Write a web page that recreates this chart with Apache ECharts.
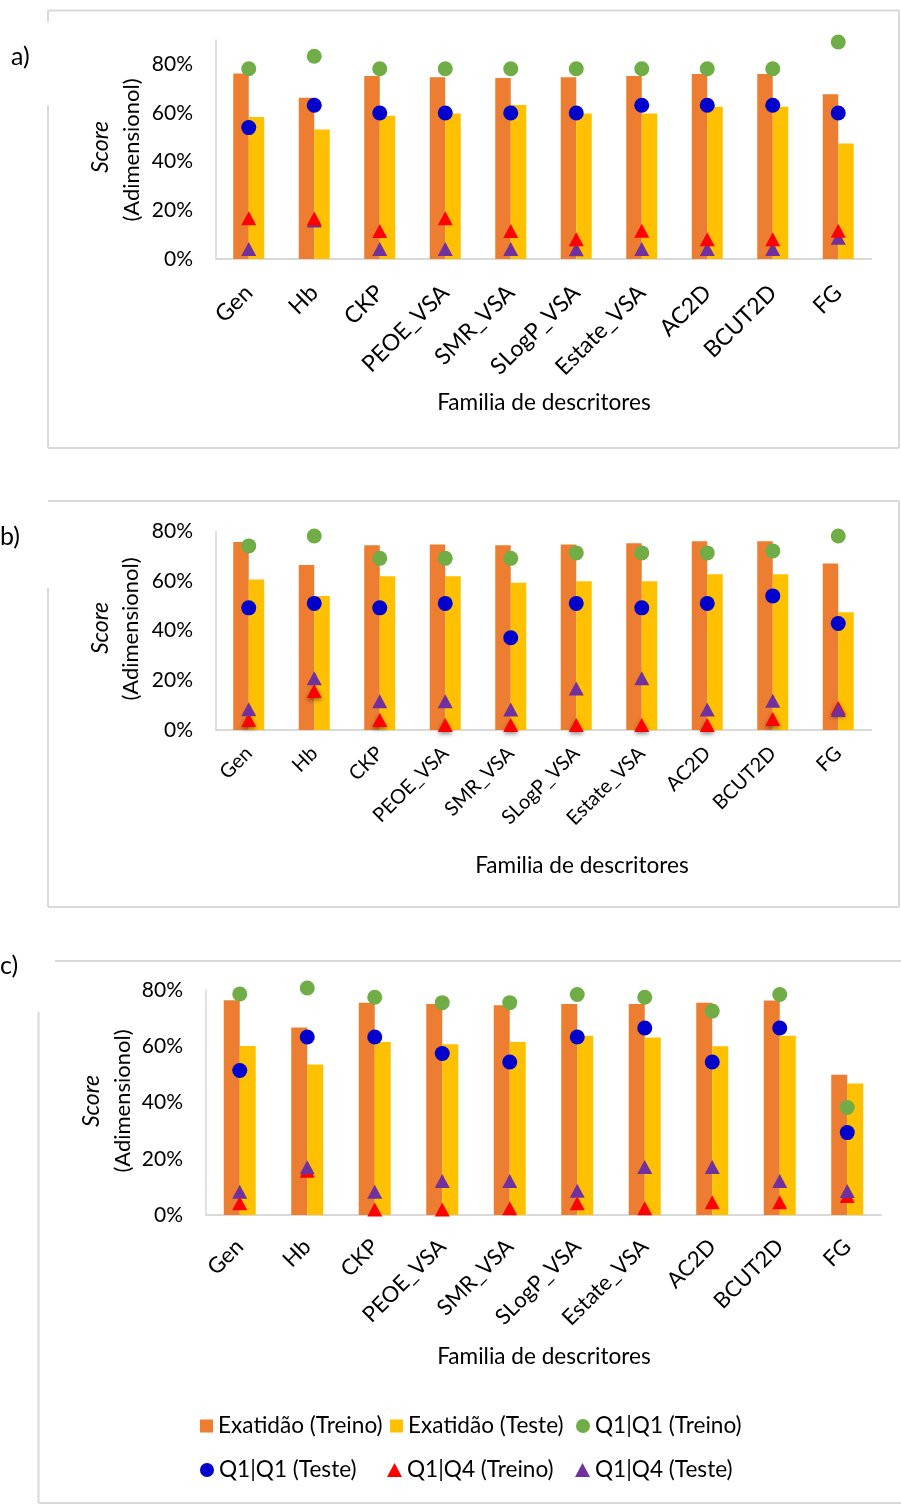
<!DOCTYPE html>
<html>
<head>
<meta charset="utf-8">
<script src="https://cdn.jsdelivr.net/npm/echarts@6/dist/echarts.min.js"></script>
<style>
  html, body { margin: 0; padding: 0; background: #fff; }
  #chart { width: 901px; height: 1506px; }
</style>
</head>
<body>
<div id="chart"></div>
<script>
// Descriptor families (x categories, shared by the three panels)
const categories = ['Gen', 'Hb', 'CKP', 'PEOE_VSA', 'SMR_VSA', 'SLogP_VSA', 'Estate_VSA', 'AC2D', 'BCUT2D', 'FG'];

// Series names (legend)
const seriesNames = ['Exatidão (Treino)', 'Exatidão (Teste)', 'Q1|Q1 (Treino)', 'Q1|Q1 (Teste)', 'Q1|Q4 (Treino)', 'Q1|Q4 (Teste)'];

// Panel a) — scores in %
const accTrainA = [76.2, 66.3, 75.2, 74.7, 74.4, 74.7, 75.2, 76.0, 76.0, 67.7];
const accTestA  = [58.4, 53.2, 58.9, 59.8, 63.3, 59.8, 59.8, 62.6, 62.6, 47.5];
const q11TrainA = [78.2, 83.3, 78.2, 78.2, 78.2, 78.2, 78.2, 78.2, 78.2, 89.2];
const q11TestA  = [54.0, 63.2, 60.0, 60.0, 60.0, 60.0, 63.2, 63.2, 63.2, 60.0];
const q14TrainA = [16.7, 16.6, 11.5, 16.7, 11.5, 8.1, 11.6, 8.1, 8.1, 11.6];
const q14TestA  = [4.1, 15.8, 4.1, 4.1, 4.1, 4.0, 4.1, 4.1, 4.1, 8.7];

// Panel b)
const accTrainB = [75.6, 66.3, 74.3, 74.6, 74.3, 74.6, 75.1, 75.9, 75.9, 66.9];
const accTestB  = [60.5, 53.9, 61.8, 61.8, 59.2, 59.8, 59.8, 62.6, 62.6, 47.3];
const q11TrainB = [74.0, 78.0, 69.0, 69.0, 69.0, 71.2, 71.2, 71.2, 72.0, 78.0];
const q11TestB  = [49.1, 50.9, 49.1, 50.9, 37.1, 50.9, 49.1, 50.9, 53.9, 42.8];
const q14TrainB = [4.0, 15.7, 4.0, 2.0, 2.0, 2.0, 2.0, 2.0, 4.4, 8.8];
const q14TestB  = [8.3, 20.8, 11.6, 11.6, 8.2, 16.7, 20.8, 8.2, 11.8, 8.0];

// Panel c)
const accTrainC = [76.4, 66.7, 75.5, 75.0, 74.6, 75.0, 75.0, 75.5, 76.3, 49.9];
const accTestC  = [60.1, 53.5, 61.5, 60.7, 61.5, 63.7, 63.1, 60.0, 63.7, 46.8];
const q11TrainC = [78.6, 80.7, 77.4, 75.5, 75.5, 78.4, 77.4, 72.5, 78.4, 38.2];
const q11TestC  = [51.4, 63.3, 63.3, 57.4, 54.4, 63.3, 66.5, 54.4, 66.5, 29.3];
const q14TrainC = [4.2, 15.7, 2.0, 2.0, 2.4, 4.2, 2.4, 4.5, 4.5, 6.8];
const q14TestC  = [8.3, 17.0, 8.3, 12.1, 12.1, 8.6, 17.1, 17.1, 12.1, 8.5];

// Y-axis tick values and axis texts
const yTicks = [0, 20, 40, 60, 80];
const panelLabels = ['a)', 'b)', 'c)'];
const xTitle = 'Familia de descritores';
const yTitleTop = 'Score';
const yTitleBottom = '(Adimensionol)';

const FONT = "Lato, 'Liberation Sans', sans-serif";
const COLORS = ['#ED7D31', '#FFC000', '#70AD47', '#0000CC', '#FF0000', '#7030A0'];
const AXIS_GREY = '#d9d9d9';

const panels = [
  { data: [accTrainA, accTestA, q11TrainA, q11TestA, q14TrainA, q14TestA],
    grid: { left: 216, top: 40, width: 655, height: 219 }, yMax: 90,
    barWidth: 15.5, labelMargin: 30, labelSize: 23, redOnTop: true, redShadow: false,
    xTitlePos: [544, 403], yTitlePos: [[101, 147], [132, 150]], labelPos: [11, 57] },
  { data: [accTrainB, accTestB, q11TrainB, q11TestB, q14TrainB, q14TestB],
    grid: { left: 216, top: 531, width: 655, height: 199 }, yMax: 80,
    barWidth: 15.5, labelMargin: 20, labelSize: 20, redOnTop: false, redShadow: true,
    xTitlePos: [582, 866], yTitlePos: [[101, 628], [131, 629]], labelPos: [0, 537] },
  { data: [accTrainC, accTestC, q11TrainC, q11TestC, q14TrainC, q14TestC],
    grid: { left: 206, top: 990, width: 675, height: 225 }, yMax: 80,
    barWidth: 16, labelMargin: 28, labelSize: 22, redOnTop: false, redShadow: false,
    xTitlePos: [544, 1357], yTitlePos: [[92, 1101], [123, 1101]], labelPos: [0, 966] }
];

const grids = [], xAxes = [], yAxes = [], series = [], graphics = [];

panels.forEach((p, i) => {
  grids.push(Object.assign({ containLabel: false }, p.grid));
  xAxes.push({
    type: 'category', gridIndex: i, data: categories,
    axisTick: { show: false },
    axisLine: { lineStyle: { color: AXIS_GREY, width: 2 } },
    axisLabel: { interval: 0, rotate: 45, margin: p.labelMargin, fontSize: p.labelSize,
                 color: '#000', fontFamily: FONT }
  });
  yAxes.push({
    type: 'value', gridIndex: i, min: 0, max: p.yMax, interval: 20,
    splitLine: { show: false },
    axisTick: { show: false },
    axisLine: { show: true, lineStyle: { color: AXIS_GREY, width: 1.5 } },
    axisLabel: { margin: 23, fontSize: 21, color: '#000', fontFamily: FONT,
                 formatter: v => (yTicks.indexOf(v) >= 0 ? v + '%' : '') }
  });

  // Accuracy bars (train / test side by side)
  [0, 1].forEach(k => {
    series.push({
      type: 'bar', name: seriesNames[k], xAxisIndex: i, yAxisIndex: i,
      data: p.data[k], barWidth: p.barWidth, barGap: '0%',
      itemStyle: { color: COLORS[k] }, z: 2
    });
  });
  // Q1|Q1 circles
  [2, 3].forEach(k => {
    series.push({
      type: 'scatter', name: seriesNames[k], xAxisIndex: i, yAxisIndex: i,
      data: p.data[k], symbol: 'circle', symbolSize: 15, clip: false,
      itemStyle: { color: COLORS[k], opacity: 1 }, z: 3 + k
    });
  });
  // Q1|Q4 triangles
  [4, 5].forEach(k => {
    const s = {
      type: 'scatter', name: seriesNames[k], xAxisIndex: i, yAxisIndex: i,
      data: p.data[k], symbol: 'triangle', symbolSize: [15, 14], clip: false,
      itemStyle: { color: COLORS[k], opacity: 1 },
      z: k === 4 ? (p.redOnTop ? 9 : 7) : 8
    };
    if (k === 4 && p.redShadow) {
      Object.assign(s.itemStyle, { shadowBlur: 4, shadowColor: 'rgba(0,0,0,0.45)', shadowOffsetY: 2 });
    }
    series.push(s);
  });

  // Axis titles and panel letter
  graphics.push({
    type: 'text', x: p.xTitlePos[0], y: p.xTitlePos[1],
    style: { text: xTitle, fontSize: 22.6, fontFamily: FONT, fill: '#000',
             textAlign: 'center', textVerticalAlign: 'middle', align: 'center', verticalAlign: 'middle' }
  });
  graphics.push({
    type: 'text', x: p.yTitlePos[0][0], y: p.yTitlePos[0][1], rotation: Math.PI / 2,
    style: { text: yTitleTop, fontSize: 23, fontStyle: 'italic', fontFamily: FONT, fill: '#000',
             textAlign: 'center', textVerticalAlign: 'middle', align: 'center', verticalAlign: 'middle' }
  });
  graphics.push({
    type: 'text', x: p.yTitlePos[1][0], y: p.yTitlePos[1][1], rotation: Math.PI / 2,
    style: { text: yTitleBottom, fontSize: 22, fontFamily: FONT, fill: '#000',
             textAlign: 'center', textVerticalAlign: 'middle', align: 'center', verticalAlign: 'middle' }
  });
  graphics.push({
    type: 'text', x: p.labelPos[0], y: p.labelPos[1],
    style: { text: panelLabels[i], fontSize: 25, fontFamily: FONT, fill: '#000',
             textAlign: 'left', textVerticalAlign: 'middle', align: 'left', verticalAlign: 'middle' }
  });
});

// Light grey frames around each panel
const frameSegments = [
  // a)
  [48, 10.5, 899, 10.5], [48, 10, 48, 22], [48, 105, 48, 448], [48, 448, 899, 448], [899, 10, 899, 448],
  // b)
  [48, 501, 899, 501], [48, 588, 48, 907], [48, 907, 899, 907], [899, 501, 899, 907],
  // c)
  [55, 961, 901, 961], [38.5, 1012, 38.5, 1503], [38.5, 1503, 901, 1503]
];
frameSegments.forEach(s => {
  graphics.push({
    type: 'line', silent: true, z: -1,
    shape: { x1: s[0], y1: s[1], x2: s[2], y2: s[3] },
    style: { stroke: '#d9d9d9', lineWidth: 2 }
  });
});

// Legend: two rows of three entries
const legendItems = [
  { name: seriesNames[0], icon: 'rect',     left: 200, top: 1412, w: 13, h: 13 },
  { name: seriesNames[1], icon: 'rect',     left: 390, top: 1412, w: 13, h: 13 },
  { name: seriesNames[2], icon: 'circle',   left: 576, top: 1412, w: 14, h: 14 },
  { name: seriesNames[3], icon: 'circle',   left: 200, top: 1456, w: 14, h: 14 },
  { name: seriesNames[4], icon: 'triangle', left: 387, top: 1456, w: 15, h: 14 },
  { name: seriesNames[5], icon: 'triangle', left: 575, top: 1456, w: 15, h: 14 }
];
const legends = legendItems.map(it => ({
  left: it.left, top: it.top, padding: 0, orient: 'horizontal',
  selectedMode: false, itemWidth: it.w, itemHeight: it.h,
  data: [{ name: it.name, icon: it.icon }],
  textStyle: { fontSize: 22.6, fontFamily: FONT, color: '#000', lineHeight: 28 }
}));

const chart = echarts.init(document.getElementById('chart'), null, { renderer: 'canvas' });
chart.setOption({
  animation: false,
  backgroundColor: '#fff',
  grid: grids,
  xAxis: xAxes,
  yAxis: yAxes,
  legend: legends,
  series: series,
  graphic: { elements: graphics }
});
</script>
</body>
</html>
